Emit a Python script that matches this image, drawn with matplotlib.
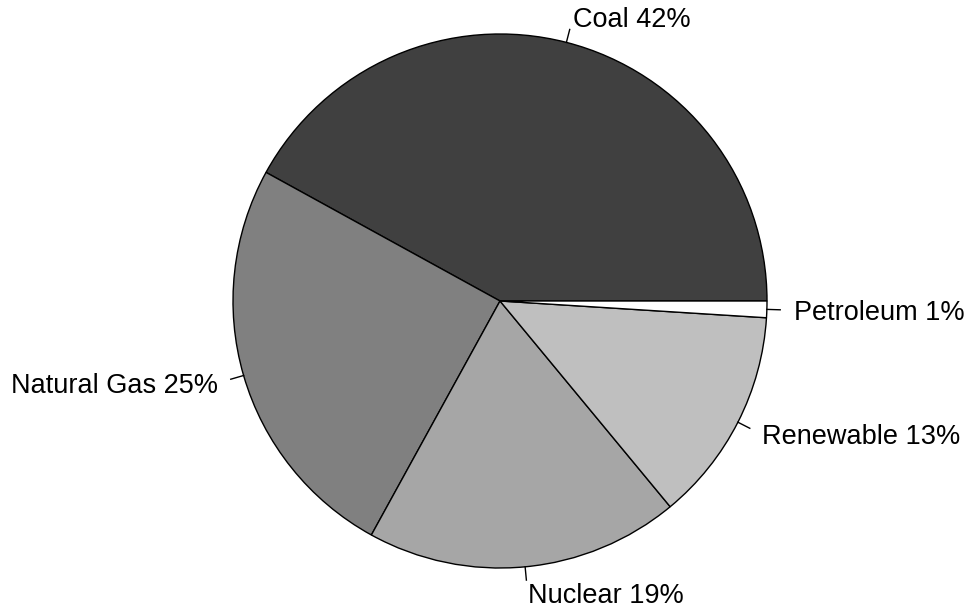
import matplotlib
matplotlib.use("Agg")
import matplotlib.pyplot as plt
import numpy as np

categories = ["Coal", "Natural Gas", "Nuclear", "Renewable", "Petroleum"]
values = [42, 25, 19, 13, 1]
colors = ["#404040", "#808080", "#A6A6A6", "#BFBFBF", "#FFFFFF"]

plt.rcParams['font.family'] = ['Liberation Sans', 'DejaVu Sans']

fig = plt.figure(figsize=(9.66, 6.08), dpi=100)
ax = fig.add_axes([0, 0, 1, 1])
R = 267
ax.pie(values, colors=colors, startangle=0, counterclock=True, radius=R,
       center=(0, 0), wedgeprops=dict(edgecolor="black", linewidth=1.0))
ax.set_aspect('auto')
ax.set_xlim(-500, 466)
ax.set_ylim(-307, 301)
ax.axis('off')

total = sum(values)
cum = np.cumsum([0] + values)
for i, (cat, v) in enumerate(zip(categories, values)):
    mid = 2 * np.pi * (cum[i] + v / 2) / total
    c, s = np.cos(mid), np.sin(mid)
    ax.plot([R * c, 1.05 * R * c], [R * s, 1.05 * R * s], color="black", lw=1.0)
    ha = 'right' if c < 0 else 'left'
    ax.text(1.1 * R * c, 1.1 * R * s, f"{cat} {round(100 * v / total)}%",
            ha=ha, va='center_baseline', fontsize=19.5)

fig.savefig("out.png", dpi=100)
